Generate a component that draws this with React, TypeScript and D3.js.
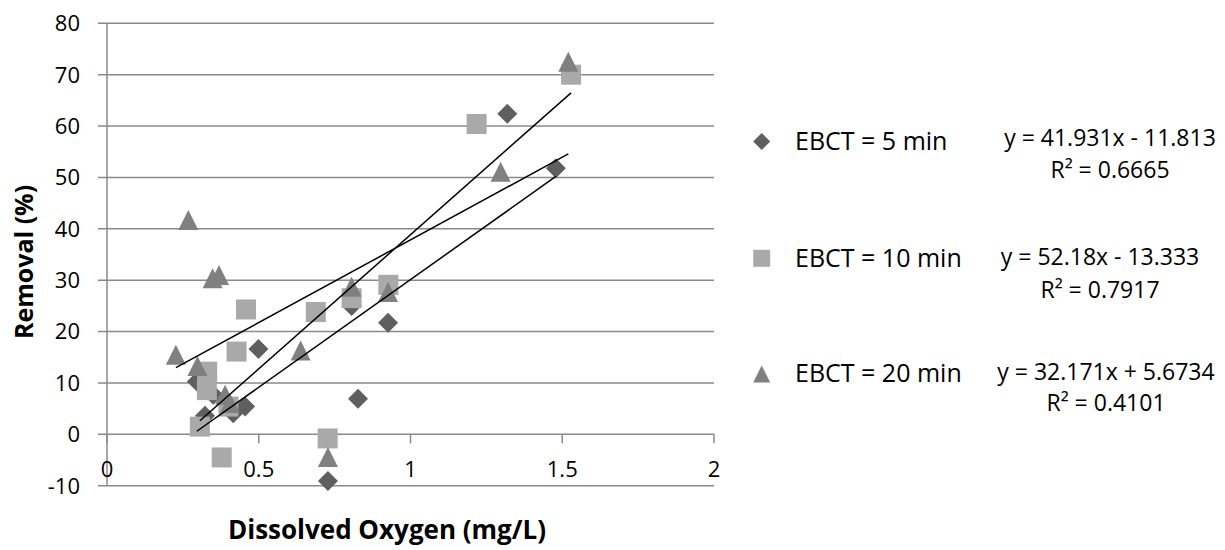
import React from "react";
import * as d3 from "d3";

// ---- data ----
const ebct5X = [0.296, 0.323, 0.35, 0.416, 0.455, 0.499, 0.728, 0.806, 0.827, 0.926, 1.319, 1.479];
const ebct5Y = [10.3, 3.6, 7.7, 4.1, 5.4, 16.6, -9.1, 25.0, 6.9, 21.7, 62.4, 51.8];

const ebct10X = [0.306, 0.329, 0.33, 0.378, 0.4, 0.427, 0.458, 0.688, 0.727, 0.806, 0.927, 1.218, 1.529];
const ebct10Y = [1.5, 8.6, 12.2, -4.5, 5.4, 16.1, 24.3, 23.8, -0.8, 26.5, 29.1, 60.4, 70.0];

const ebct20X = [0.227, 0.268, 0.298, 0.348, 0.369, 0.389, 0.405, 0.638, 0.728, 0.806, 0.926, 1.297, 1.52];
const ebct20Y = [15.5, 41.7, 13.3, 30.4, 31.0, 7.7, 6.1, 16.3, -4.4, 28.7, 27.7, 51.1, 72.5];

const seriesNames = ["EBCT = 5 min", "EBCT = 10 min", "EBCT = 20 min"];
const slopes = [41.931, 52.18, 32.171];
const intercepts = [-11.813, -13.333, 5.6734];
const equationLabels = ["y = 41.931x - 11.813", "y = 52.18x - 13.333", "y = 32.171x + 5.6734"];
const r2Labels = ["R\u00B2 = 0.6665", "R\u00B2 = 0.7917", "R\u00B2 = 0.4101"];

const xTicks = [0, 0.5, 1, 1.5, 2];
const yTicks = [-10, 0, 10, 20, 30, 40, 50, 60, 70, 80];

const FONT = "'Open Sans', 'Noto Sans', sans-serif";
const GRID = "#8a8a8a";
const colors = ["#5f5f5f", "#a9a9a9", "#808080"];
const symbols = [d3.symbolDiamond2, d3.symbolSquare2, d3.symbolTriangle2];

function markerPath(i: number, size: number, cx: number, cy: number) {
  // draw a marker of given width "size" centred at cx, cy
  if (i === 0) {
    const h = size / 2;
    return `M${cx},${cy - h}L${cx + h},${cy}L${cx},${cy + h}L${cx - h},${cy}Z`;
  }
  if (i === 1) {
    const h = size / 2;
    return `M${cx - h},${cy - h}H${cx + h}V${cy + h}H${cx - h}Z`;
  }
  const h = size / 2;
  return `M${cx},${cy - h}L${cx + h},${cy + h}L${cx - h},${cy + h}Z`;
}

export default function App() {
  const x = d3.scaleLinear().domain([0, 2]).range([107, 714]);
  const y = d3.scaleLinear().domain([-10, 80]).range([485.7, 23.3]);

  const series = [
    { xs: ebct5X, ys: ebct5Y },
    { xs: ebct10X, ys: ebct10Y },
    { xs: ebct20X, ys: ebct20Y },
  ];

  const line = d3
    .line<[number, number]>()
    .x((d) => x(d[0]))
    .y((d) => y(d[1]));

  const legendRows = [
    { cy: 141.5, textBase: 149.6, eqX: 1110, eqBase: 146, r2Base: 178 },
    { cy: 258.3, textBase: 267, eqX: 1100, eqBase: 265, r2Base: 298 },
    { cy: 374, textBase: 382, eqX: 1106, eqBase: 380, r2Base: 411 },
  ];

  return (
    <svg
      width={1225}
      height={550}
      style={{ position: "absolute", left: 0, top: 0, background: "#fff" }}
      fontFamily={FONT}
    >
      {/* gridlines */}
      {yTicks.map((t) => (
        <line key={"g" + t} x1={98} x2={714} y1={y(t)} y2={y(t)} stroke={GRID} strokeWidth={1.5} />
      ))}
      {/* y axis */}
      <line x1={x(0)} x2={x(0)} y1={y(80)} y2={y(-10)} stroke={GRID} strokeWidth={1.5} />
      {/* x axis ticks */}
      {xTicks.map((t) => (
        <line key={"xt" + t} x1={x(t)} x2={x(t)} y1={y(0)} y2={y(0) + 9} stroke={GRID} strokeWidth={1.5} />
      ))}
      {/* y tick labels */}
      {yTicks.map((t) => (
        <text key={"yl" + t} x={80} y={y(t) + 7.9} fontSize={22} textAnchor="end" fill="#000">
          {t}
        </text>
      ))}
      {/* x tick labels */}
      {xTicks.map((t) => (
        <text key={"xl" + t} x={x(t)} y={477} fontSize={22} textAnchor="middle" fill="#000">
          {t}
        </text>
      ))}

      {/* markers */}
      {series.map((s, i) =>
        s.xs.map((xv, j) => (
          <path key={`m${i}-${j}`} d={markerPath(i, 20, x(xv), y(s.ys[j]))} fill={colors[i]} />
        ))
      )}

      {/* trendlines */}
      {series.map((s, i) => {
        const [lo, hi] = d3.extent(s.xs) as [number, number];
        const pts: [number, number][] = [
          [lo, slopes[i] * lo + intercepts[i]],
          [hi, slopes[i] * hi + intercepts[i]],
        ];
        return <path key={"tl" + i} d={line(pts) || ""} stroke="#000" strokeWidth={1.5} fill="none" />;
      })}

      {/* axis titles */}
      <text
        transform="translate(33,262) rotate(-90)"
        fontSize={25}
        fontWeight="bold"
        textAnchor="middle"
        fill="#000"
      >
        Removal (%)
      </text>
      <text x={387} y={539} fontSize={26} fontWeight="bold" textAnchor="middle" fill="#000">
        Dissolved Oxygen (mg/L)
      </text>

      {/* legend + trendline labels */}
      {legendRows.map((r, i) => (
        <g key={"lg" + i}>
          <path d={markerPath(i, 17, 761.7, r.cy)} fill={colors[i]} />
          <text x={795} y={r.textBase} fontSize={25} fill="#000">
            {seriesNames[i]}
          </text>
          <text x={r.eqX} y={r.eqBase} fontSize={23} textAnchor="middle" fill="#000">
            {equationLabels[i]}
          </text>
          <text x={r.eqX} y={r.r2Base} fontSize={23} textAnchor="middle" fill="#000">
            {r2Labels[i]}
          </text>
        </g>
      ))}
    </svg>
  );
}
